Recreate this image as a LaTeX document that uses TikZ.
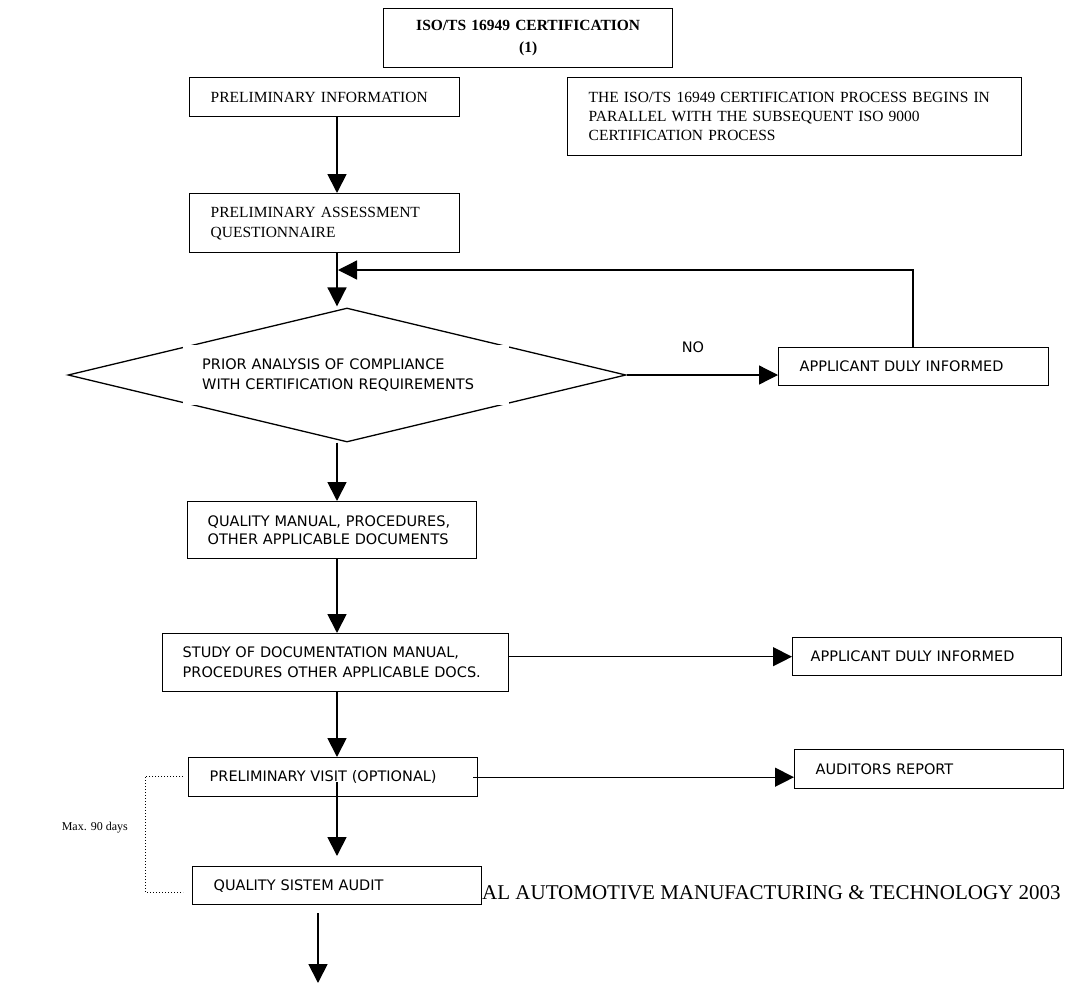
\documentclass[tikz,border=0pt]{standalone}
\usepackage{fontspec}
\setmainfont{Liberation Serif}
\newfontfamily\sansf{DejaVu Sans}
\usetikzlibrary{arrows.meta,calc,shapes.geometric}
\begin{document}
\begin{tikzpicture}[x=1pt,y=-1pt,
  box/.style={draw, line width=1.4pt, inner xsep=#1, inner ysep=0pt, align=left, anchor=north west},
  box/.default=21pt,
  serif/.style={font=\fontsize{15.5}{20}\selectfont},
  sans/.style={font=\sansf\fontsize{14.5}{20}\selectfont},
  arr/.style={line width=1.8pt, -{Triangle[length=19pt,width=19pt]}},
  thinarr/.style={line width=1.3pt, -{Triangle[length=19pt,width=19pt]}},
  bracket/.style={line width=1pt, dotted}
]
\useasboundingbox (0,0) rectangle (1080,983);
\coordinate (ax) at (337,0);
% nodes
\node[box=5pt, align=center, text width=279pt, minimum height=59pt,
      font=\bfseries\fontsize{15.5}{22}\selectfont] (title) at (383,8)
      {ISO/TS 16949 CERTIFICATION\\(1)};
\node[box=21pt, serif, text width=412pt, minimum height=78pt, font=\fontsize{15.5}{19}\selectfont] (note) at (567,77)
      {THE ISO/TS 16949 CERTIFICATION PROCESS BEGINS IN\\PARALLEL WITH THE SUBSEQUENT ISO 9000\\CERTIFICATION PROCESS};
\node[box, serif, text width=228pt, minimum height=39pt] (pi) at (189,77) {PRELIMINARY INFORMATION};
\node[box, serif, text width=228pt, minimum height=59pt] (paq) at (189,193)
      {PRELIMINARY ASSESSMENT\\QUESTIONNAIRE};
\node[diamond, draw, line width=1.3pt, minimum width=558pt, minimum height=134pt, inner sep=0pt] (dia) at (347,375) {};
\node[anchor=north west, fill=white, inner xsep=19pt, inner ysep=0pt, text width=288pt,
      minimum height=60pt, align=left, sans] (diat) at (183,345)
      {PRIOR ANALYSIS OF COMPLIANCE\\WITH CERTIFICATION REQUIREMENTS};
\node[box, sans, text width=228pt, minimum height=38pt] (adi) at (778,347) {APPLICANT DULY INFORMED};
\node[sans, inner sep=0pt] (no) at (693,347) {NO};
\node[box=20pt, sans, text width=249pt, minimum height=57pt, font=\sansf\fontsize{14.5}{18.5}\selectfont] (qm) at (187,501)
      {QUALITY MANUAL, PROCEDURES,\\OTHER APPLICABLE DOCUMENTS};
\node[box=20pt, sans, text width=306pt, minimum height=58pt] (sd) at (162,633)
      {STUDY OF DOCUMENTATION MANUAL,\\PROCEDURES OTHER APPLICABLE DOCS.};
\node[box=18pt, sans, text width=233pt, minimum height=38pt] (adi2) at (792,637) {APPLICANT DULY INFORMED};
\node[box, sans, text width=247pt, minimum height=39pt] (pv) at (188,757) {PRELIMINARY VISIT (OPTIONAL)};
\node[box, sans, text width=227pt, minimum height=39pt] (ar) at (794,749) {AUDITORS REPORT};
\node[box, sans, text width=247pt, minimum height=38pt] (qsa) at (192,866) {QUALITY SISTEM AUDIT};
\node[anchor=east, inner sep=0pt, font=\fontsize{12}{14}\selectfont] (maxd) at (128,828) {Max. 90 days};
\node[anchor=west, inner sep=0pt, font=\fontsize{21}{24}\selectfont] (foot) at (482,893)
      {AL AUTOMOTIVE MANUFACTURING \& TECHNOLOGY 2003};
% coordinates
\coordinate (fb) at (913,270);
\coordinate (pvin) at (337,782);
\coordinate (bend) at (318,983);
\coordinate (d1) at (183,776);
\coordinate (d2) at (145,776);
\coordinate (d3) at (145,892);
\coordinate (d4) at (183,892);
% connectors
\draw[arr] (pi.south -| ax) -- (paq.north -| ax);
\draw[arr] (paq.south -| ax) -- ([yshift=1pt]dia.north -| ax);
\draw[thinarr] (adi.north -| fb) |- ([xshift=1pt]ax |- fb);
\draw[thinarr] (dia.east) -- (dia.east -| adi.west);
\draw[arr] (dia.south -| ax) -- (qm.north -| ax);
\draw[arr] (qm.south -| ax) -- (sd.north -| ax);
\draw[thinarr] (adi2.west -| sd.east) -- (adi2.west);
\draw[arr] (sd.south -| ax) -- (pv.north -| ax);
\draw[thinarr] ([xshift=-5pt]pv.east) -- (pv.east -| ar.west);
\draw[arr] (pvin) -- ([yshift=10pt]qsa.north -| ax);
\draw[arr] ([yshift=-8pt]qsa.south -| bend) -- (bend);
\draw[bracket] (d1) -- (d2) -- (d3) -- (d4);
\end{tikzpicture}
\end{document}
